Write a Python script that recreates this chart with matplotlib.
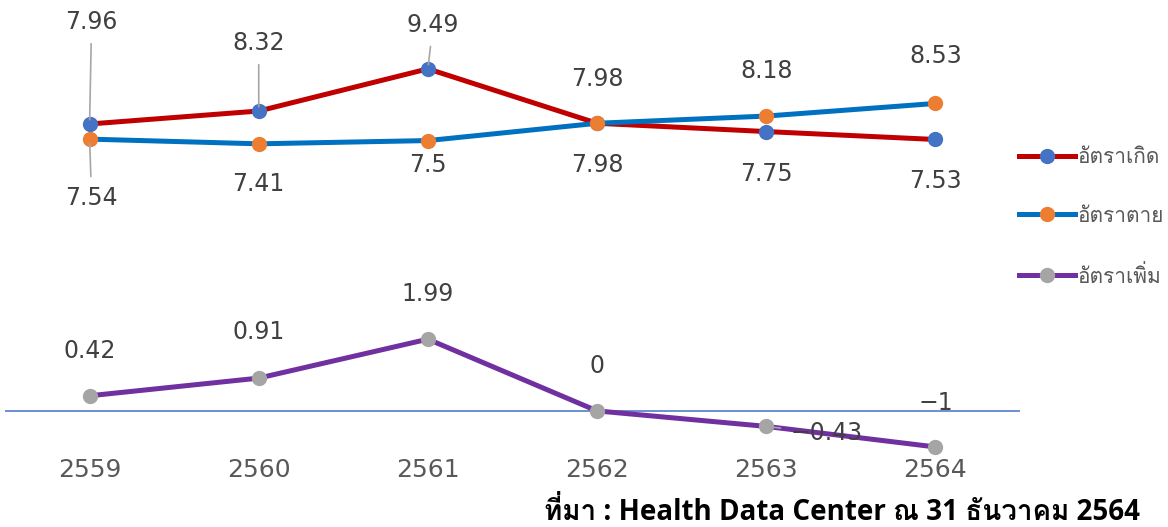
import matplotlib
matplotlib.use('Agg')
import matplotlib.pyplot as plt
from matplotlib import font_manager, ft2font
from matplotlib.lines import Line2D

# ข้อมูล
years = ['2559', '2560', '2561', '2562', '2563', '2564']
birth = [7.96, 8.32, 9.49, 7.98, 7.75, 7.53]
death = [7.54, 7.41, 7.5, 7.98, 8.18, 8.53]
growth = [0.42, 0.91, 1.99, 0, -0.43, -1]
names = ['อัตราเกิด', 'อัตราตาย', 'อัตราเพิ่ม']
source = 'ที่มา : Health Data Center ณ 31 ธันวาคม 2564'

# หาฟอนต์ที่มีอักษรไทย
thai_font = None
for f in font_manager.fontManager.ttflist:
    try:
        if 0x0E2D in ft2font.FT2Font(f.fname).get_charmap():
            thai_font = f.name
            break
    except Exception:
        pass
thai_family = [thai_font, 'DejaVu Sans'] if thai_font else ['DejaVu Sans']
mixed_family = ['Open Sans'] + thai_family

fig = plt.figure(figsize=(11.68, 5.27), dpi=100)
ax = fig.add_axes([5 / 1168, 1 - 452 / 527, 1015 / 1168, 452 / 527])

x = list(range(len(years)))
ax.plot(x, birth, color='#C00000', lw=3.6, marker='o', ms=10,
        mfc='#4472C4', mec='#4472C4', zorder=3, clip_on=False)
ax.plot(x, death, color='#0070C0', lw=3.6, marker='o', ms=10,
        mfc='#ED7D31', mec='#ED7D31', zorder=4, clip_on=False)
ax.plot(x, growth, color='#7030A0', lw=3.6, marker='o', ms=10,
        mfc='#A5A5A5', mec='#A5A5A5', zorder=6, clip_on=False)
ax.axhline(0, color='#4472C4', lw=1.1, zorder=2)

ax.set_xlim(-0.5, 5.5)
ax.set_ylim(-1.14, 11.40)

# ตำแหน่งป้ายตัวเลข (pixel offset)
birth_off = [(2, 102), (0, 68), (5, 44), (0, -42), (0, -42), (0, -42)]
death_off = [(2, -59), (0, -40), (0, -24), (0, 44), (0, 45), (0, 47)]
growth_off = [(0, 45), (0, 46), (0, 45), (0, 45), (60, -7), (0, 44)]
leader = {('b', 0), ('b', 1), ('b', 2), ('d', 0), ('g', 4)}


def fmt(v):
    s = f'{v:g}'
    return s.replace('-', '\u2212')


for key, vals, offs in [('b', birth, birth_off), ('d', death, death_off), ('g', growth, growth_off)]:
    for i, (v, o) in enumerate(zip(vals, offs)):
        kw = {}
        if (key, i) in leader:
            kw['arrowprops'] = dict(arrowstyle='-', color='#A6A6A6', lw=1.2,
                                    shrinkA=5, shrinkB=3)
        ax.annotate(fmt(v), (i, v), xytext=o, textcoords='offset pixels',
                    ha='center', va='center', fontsize=17, color='#404040',
                    zorder=7, **kw)

ax.set_xticks(x)
ax.set_xticklabels(years, fontsize=18, color='#595959')
ax.tick_params(axis='x', length=0, pad=4)
ax.set_yticks([])
for s in ax.spines.values():
    s.set_visible(False)

handles = [
    Line2D([], [], color='#C00000', lw=3.6, marker='o', ms=10, mfc='#4472C4', mec='#4472C4'),
    Line2D([], [], color='#0070C0', lw=3.6, marker='o', ms=10, mfc='#ED7D31', mec='#ED7D31'),
    Line2D([], [], color='#7030A0', lw=3.6, marker='o', ms=10, mfc='#A5A5A5', mec='#A5A5A5'),
]
leg = fig.legend(handles, names, loc='upper left',
                 bbox_to_anchor=(1011 / 1168, 1 - 140 / 527),
                 frameon=False, handlelength=2.65, handletextpad=0.12,
                 labelspacing=1.88, borderaxespad=0,
                 prop={'family': thai_family, 'size': 15})
for t in leg.get_texts():
    t.set_color('#595959')

fig.text(1140 / 1168, 1 - 512 / 527, source, ha='right', va='center',
         fontsize=20, fontweight='bold', color='black', family=mixed_family)

fig.savefig('out.png', dpi=100)
